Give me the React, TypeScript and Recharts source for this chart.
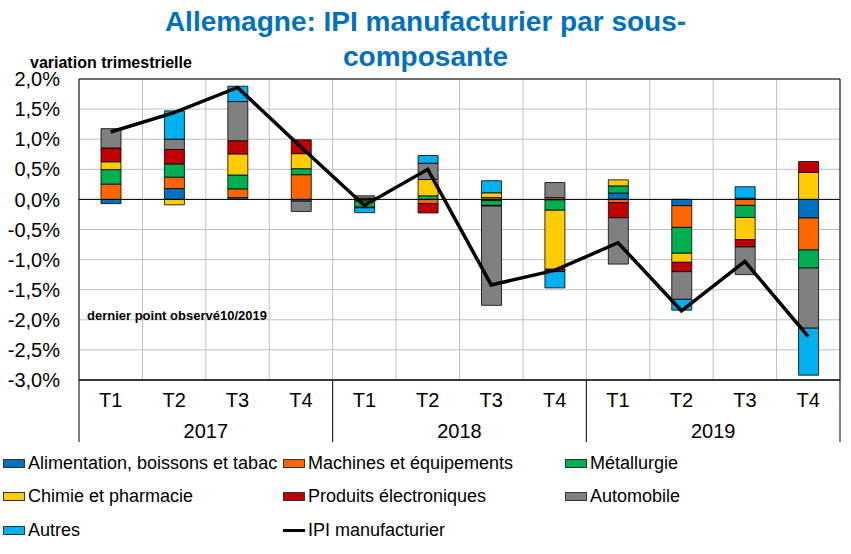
import React from "react";
import {
  ComposedChart, Bar, Line, XAxis, YAxis, CartesianGrid, ReferenceLine, ReferenceArea,
} from "recharts";

const quarters = ["T1", "T2", "T3", "T4", "T1", "T2", "T3", "T4", "T1", "T2", "T3", "T4"];
const years = ["2017", "2017", "2017", "2017", "2018", "2018", "2018", "2018", "2019", "2019", "2019", "2019"];

const alimentation = [-0.07, 0.18, 0.03, -0.03, -0.01, 0, -0.02, -0.01, 0.105, -0.105, 0.02, -0.31];
const machines = [0.255, 0.19, 0.145, 0.41, -0.02, -0.07, 0.03, 0.03, -0.055, -0.36, -0.1, -0.53];
const metallurgie = [0.24, 0.22, 0.23, 0.1, -0.1, 0.06, -0.08, -0.17, 0.12, -0.43, -0.2, -0.3];
const chimie = [0.13, -0.09, 0.35, 0.25, -0.01, 0.27, 0.08, -0.98, 0.1, -0.15, -0.37, 0.45];
const electronique = [0.23, 0.24, 0.22, 0.23, 0.02, -0.155, -0.01, -0.04, -0.25, -0.155, -0.12, 0.18];
const automobile = [0.32, 0.17, 0.65, -0.17, 0.04, 0.27, -1.65, 0.25, -0.77, -0.46, -0.46, -1.0];
const autres = [0, 0.47, 0.255, 0, -0.08, 0.13, 0.2, -0.27, 0, -0.18, 0.19, -0.78];
const ipi = [1.12, 1.44, 1.86, 0.87, -0.1, 0.5, -1.42, -1.18, -0.72, -1.85, -1.03, -2.28];

const yTicks = [-3, -2.5, -2, -1.5, -1, -0.5, 0, 0.5, 1, 1.5, 2];

const SERIES = [
  { key: "alim", name: "Alimentation, boissons et tabac", color: "#0070C0", values: alimentation },
  { key: "mach", name: "Machines et équipements", color: "#FF6600", values: machines },
  { key: "meta", name: "Métallurgie", color: "#00B050", values: metallurgie },
  { key: "chim", name: "Chimie et pharmacie", color: "#FFCC00", values: chimie },
  { key: "elec", name: "Produits électroniques", color: "#C00000", values: electronique },
  { key: "auto", name: "Automobile", color: "#808080", values: automobile },
  { key: "autr", name: "Autres", color: "#00B0F0", values: autres },
];

const data = quarters.map((q, i) => {
  const row: Record<string, any> = { q, year: years[i], ipi: ipi[i] };
  SERIES.forEach((s) => { row[s.key] = s.values[i]; });
  return row;
});

const W = 851;
const H = 450;
const LEFT = 79;
const RIGHT = 11;
const BAND = (W - LEFT - RIGHT) / quarters.length;
const FONT = "'Liberation Sans', Arial, sans-serif";

const fmt = (v: number) => `${v.toFixed(1).replace(".", ",")}%`;

function QuarterTick(props: any) {
  const { x, y, payload } = props;
  return (
    <text x={x} y={y + 20} dy="0.36em" textAnchor="middle" fontSize={20} fill="#000" fontFamily={FONT}>
      {payload.value}
    </text>
  );
}

function YearTick(props: any) {
  const { x, y, payload } = props;
  const i = payload.index;
  return (
    <g>
      {i % 4 === 0 && <line x1={x - BAND / 2} x2={x - BAND / 2} y1={y - 40} y2={y + 22} stroke="#000" />}
      {i === quarters.length - 1 && <line x1={x + BAND / 2} x2={x + BAND / 2} y1={y - 40} y2={y + 22} stroke="#000" />}
      {i % 4 === 1 && (
        <text x={x + BAND / 2} y={y + 11} dy="0.36em" textAnchor="middle" fontSize={20} fill="#000" fontFamily={FONT}>
          {payload.value}
        </text>
      )}
    </g>
  );
}

const legendItems = [
  ...SERIES.map((s) => ({ name: s.name, color: s.color, line: false })),
  { name: "IPI manufacturier", color: "#000", line: true },
];
const legendCols = [3, 283, 565];
const legendRows = [463, 496.5, 530];

export default function App() {
  return (
    <div style={{ position: "absolute", left: 0, top: 0, width: W, height: 554, background: "#fff", fontFamily: FONT }}>
      <div style={{
        position: "absolute", left: 0, top: 4, width: W, textAlign: "center", color: "#0070C0",
        fontWeight: "bold", fontSize: 28, lineHeight: "35px",
      }}>
        Allemagne: IPI manufacturier par sous-<br />composante
      </div>
      <div style={{ position: "absolute", left: 30, top: 54, fontWeight: "bold", fontSize: 16, lineHeight: "18px" }}>
        variation trimestrielle
      </div>

      <div style={{ position: "absolute", left: 0, top: 0 }}>
        <ComposedChart width={W} height={H} data={data} stackOffset="sign"
          margin={{ top: 79, right: RIGHT, bottom: 0, left: 0 }}>
          <CartesianGrid stroke="#BFBFBF" strokeWidth={1}
            verticalCoordinatesGenerator={({ offset }: any) =>
              quarters.map((_, i) => offset.left + i * offset.width / quarters.length).concat(offset.left + offset.width)} />
          <XAxis dataKey="q" interval={0} height={40} tickSize={0} tickMargin={0} axisLine={{ stroke: "#000" }}
            tickLine={false} tick={<QuarterTick />} />
          <XAxis xAxisId="year" dataKey="year" interval={0} height={30} tickSize={0} tickMargin={0}
            axisLine={false} tickLine={false} tick={<YearTick />} />
          <YAxis domain={[-3, 2]} ticks={yTicks} width={LEFT} tickSize={0} tickMargin={19} axisLine={false}
            tickLine={false} tickFormatter={fmt} tick={{ fill: "#000", fontSize: 20, fontFamily: FONT }} />
          {SERIES.map((s) => (
            <Bar key={s.key} dataKey={s.key} name={s.name} stackId="a" fill={s.color} stroke="#000"
              strokeWidth={0.8} barSize={20} isAnimationActive={false} />
          ))}
          <ReferenceLine y={0} stroke="#000" strokeWidth={1} />
          <ReferenceArea y1={-3} y2={2} fill="none" stroke="#000" strokeWidth={1} ifOverflow="visible" />
          <Line dataKey="ipi" name="IPI manufacturier" type="linear" stroke="#000" strokeWidth={3.5}
            dot={false} isAnimationActive={false} />
        </ComposedChart>
      </div>

      <div style={{ position: "absolute", left: 87, top: 308, fontWeight: "bold", fontSize: 13, lineHeight: "16px" }}>
        dernier point observé10/2019
      </div>

      {legendItems.map((it, i) => {
        const left = legendCols[i % 3];
        const cy = legendRows[Math.floor(i / 3)];
        return (
          <div key={it.name} style={{ position: "absolute", left, top: cy - 11, height: 22, display: "flex", alignItems: "center", fontSize: 18, color: "#000", whiteSpace: "nowrap" }}>
            {it.line ? (
              <span style={{ display: "inline-block", width: 22, height: 3, background: "#000", marginRight: 3 }} />
            ) : (
              <span style={{ display: "inline-block", width: 20, height: 7, background: it.color, border: "1px solid #333", marginRight: 3 }} />
            )}
            {it.name}
          </div>
        );
      })}
    </div>
  );
}
